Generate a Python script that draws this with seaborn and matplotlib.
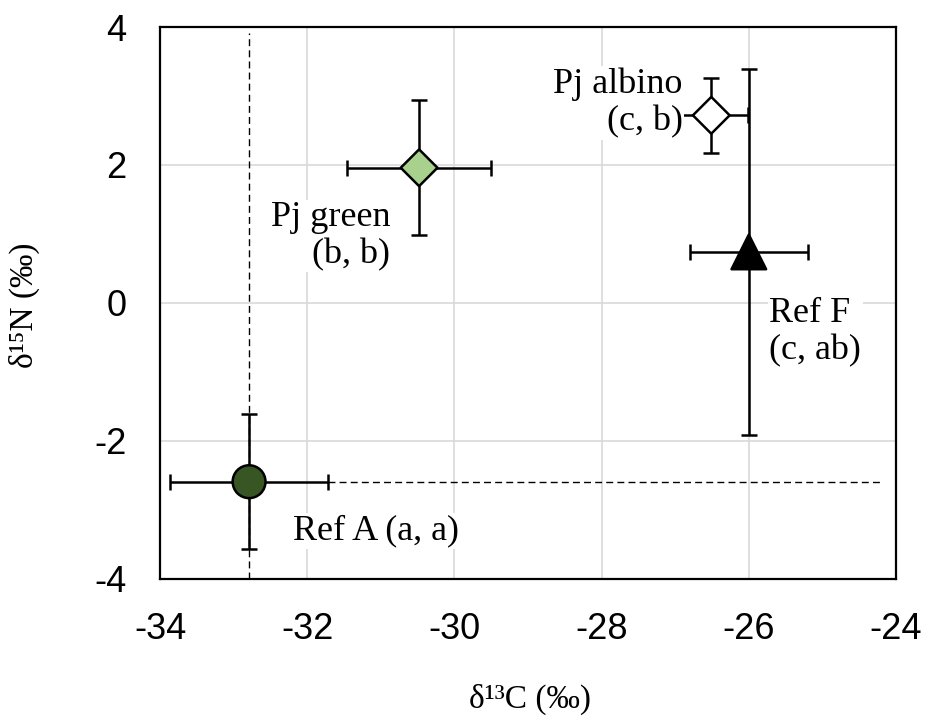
import matplotlib
matplotlib.use("Agg")
import pandas as pd
import matplotlib.pyplot as plt
import seaborn as sns

# ---- data ----
groups = ["Ref A", "Pj green", "Pj albino", "Ref F"]
d13c = [-32.79, -30.48, -26.51, -26.00]
d13c_sd = [1.07, 0.98, 0.50, 0.80]
d15n = [-2.59, 1.96, 2.72, 0.74]
d15n_sd = [0.98, 0.98, 0.54, 2.65]
letters = ["Ref A (a, a)", "Pj green\n(b, b)", "Pj albino\n(c, b)", "Ref F\n(c, ab)"]

df = pd.DataFrame({"group": groups, "d13C": d13c, "d13C_sd": d13c_sd,
                   "d15N": d15n, "d15N_sd": d15n_sd, "label": letters})

# styling per group
colors = {"Ref A": "#375623", "Pj green": "#a9d18e", "Pj albino": "white", "Ref F": "black"}
markers = {"Ref A": "o", "Pj green": "D", "Pj albino": "D", "Ref F": "^"}
sizes = {"Ref A": 560, "Pj green": 350, "Pj albino": 350, "Ref F": 620}
# label placement: (x, y, ha)
label_pos = {"Ref A": (-32.2, -3.3, "left"),
             "Pj green": (-30.87, 0.97, "right"),
             "Pj albino": (-26.9, 2.9, "right"),
             "Ref F": (-25.72, -0.42, "left")}

sns.set_theme(style="whitegrid")
plt.rcParams["font.family"] = ["Liberation Sans", "DejaVu Sans"]
plt.rcParams["axes.unicode_minus"] = False
serif = ["Liberation Serif", "DejaVu Serif"]

fig, ax = plt.subplots(figsize=(9.32, 7.24), dpi=100)
fig.subplots_adjust(left=0.1717, right=0.9614, bottom=0.2003, top=0.9627)

# dashed reference lines through Ref A
ax.axvline(d13c[0], ymin=0, ymax=0.99, color="black", lw=1.0, ls=(0, (5, 3)), zorder=1)
ax.hlines(d15n[0], d13c[0] + d13c_sd[0], -24.2, color="black", lw=1.0, ls=(0, (5, 3)), zorder=1)

# error bars
ax.errorbar(df["d13C"], df["d15N"], xerr=df["d13C_sd"], yerr=df["d15N_sd"],
            fmt="none", ecolor="black", elinewidth=1.8, capsize=6, capthick=1.8, zorder=2)

# markers
sns.scatterplot(data=df, x="d13C", y="d15N", hue="group", style="group", size="group",
                palette=colors, markers=markers, sizes=sizes, edgecolor="black",
                linewidth=1.8, legend=False, ax=ax, zorder=3)

for g, lab in zip(groups, letters):
    x, y, ha = label_pos[g]
    ax.text(x, y, lab, ha=ha, va="center", multialignment=ha, fontsize=26,
            family=serif, color="black", linespacing=1.15, zorder=4,
            bbox=dict(facecolor="white", edgecolor="none", pad=1))

ax.set_xlim(-34, -24)
ax.set_ylim(-4, 4)
ax.set_xticks(range(-34, -23, 2))
ax.set_yticks(range(-4, 5, 2))
ax.grid(True, color="#d9d9d9", lw=1.2)
ax.tick_params(length=0, pad=24, labelsize=26, colors="black")
for s in ax.spines.values():
    s.set_color("black")
    s.set_linewidth(1.6)

ax.set_xlabel("δ¹³C (‰)", fontsize=24, family=serif, color="black")
ax.set_ylabel("δ¹⁵N (‰)", fontsize=24, family=serif, color="black")
ax.xaxis.set_label_coords(0.503, -0.19)
ax.yaxis.set_label_coords(-0.163, 0.496)

fig.savefig("out.png", dpi=100)
